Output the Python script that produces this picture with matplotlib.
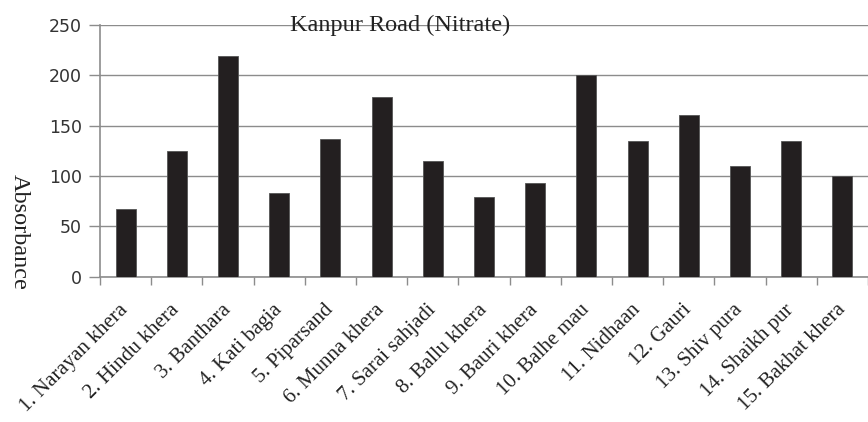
import matplotlib.pyplot as plt
import numpy as np

sites = ['1. Narayan khera', '2. Hindu khera', '3. Banthara', '4. Kati bagia',
         '5. Piparsand', '6. Munna khera', '7. Sarai sahjadi', '8. Ballu khera',
         '9. Bauri khera', '10. Balhe mau', '11. Nidhaan', '12. Gauri',
         '13. Shiv pura', '14. Shaikh pur', '15. Bakhat khera']
nitrate = [67, 125, 219, 83, 137, 178, 115, 79, 93, 200, 135, 161, 110, 135, 100]

serif = 'Liberation Serif'
grey = '#8c8c8c'

fig = plt.figure(figsize=(8.68, 4.22), dpi=100)
ax = fig.add_axes([100 / 868, 1 - 276.7 / 422, 768 / 868, 251.7 / 422])

x = np.arange(len(sites))
ax.bar(x, nitrate, width=0.39, color='#231f20', edgecolor='#555555',
       linewidth=0.6, zorder=3)

ax.set_ylim(0, 250)
ax.set_xlim(-0.5, -0.5 + 768 / 51.47)
ax.set_yticks(range(0, 251, 50))
ax.yaxis.grid(True, color=grey, linewidth=1.0, zorder=0)
ax.set_axisbelow(True)

ax.set_xticks(x)
ax.set_xticklabels(sites, rotation=45, ha='right', va='center',
                   rotation_mode='anchor', family=serif, fontsize=15,
                   color='#222222')
ax.tick_params(axis='x', length=0, pad=22)
ax.set_xticks(np.arange(len(sites) + 1) - 0.5, minor=True)
ax.tick_params(axis='x', which='minor', length=6, color=grey, width=1)
ax.tick_params(axis='y', length=8, color=grey, width=1, labelsize=12.5,
               labelcolor='#333333', pad=5)

for side in ['top', 'right']:
    ax.spines[side].set_visible(False)
for side in ['left', 'bottom']:
    ax.spines[side].set_color(grey)
    ax.spines[side].set_linewidth(1.2)

fig.text(400 / 868, 1 - 31.5 / 422, 'Kanpur Road (Nitrate)', family=serif,
         fontsize=17.5, ha='center', va='baseline', color='#222222')
fig.text(19 / 868, 1 - 232 / 422, 'Absorbance', family=serif, fontsize=17.5,
         rotation=270, ha='center', va='center', color='#222222')

fig.savefig('out.png', dpi=100)
